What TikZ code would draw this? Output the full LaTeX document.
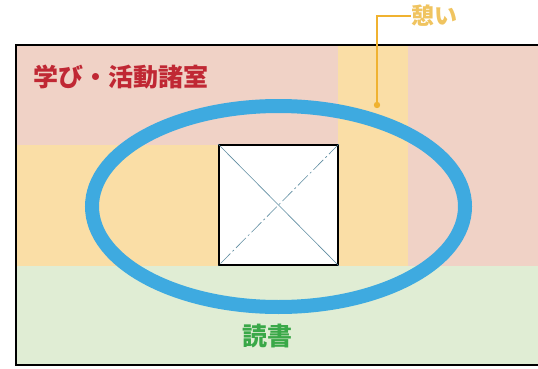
\documentclass[tikz,border=0pt]{standalone}
\usepackage{fontspec}
\newfontfamily\cjk{Noto Sans CJK JP}
\definecolor{pinkzone}{RGB}{240,210,198}
\definecolor{yellowzone}{RGB}{250,222,166}
\definecolor{greenzone}{RGB}{224,237,212}
\definecolor{ringblue}{RGB}{62,170,224}
\definecolor{labelred}{RGB}{192,40,52}
\definecolor{labelgreen}{RGB}{58,168,72}
\definecolor{labelyellow}{RGB}{240,196,96}
\definecolor{leaderorange}{RGB}{240,178,48}
\definecolor{diagline}{RGB}{95,140,160}
\tikzset{
  zonelabel/.style={inner sep=0pt, font=\cjk\bfseries\fontsize{25}{25}\selectfont},
  leader/.style={draw=leaderorange, line width=1.6pt},
}
\begin{document}
\begin{tikzpicture}[x=1pt,y=-1pt]
\useasboundingbox (0,0) rectangle (538,369);
% zones
\fill[pinkzone] (16,45) rectangle (545,266);
\fill[yellowzone] (16,145) rectangle (219,266);
\fill[yellowzone] (338,45) rectangle (408,266);
\fill[greenzone] (16,266) rectangle (545,365);
% central void
\node[draw=black, line width=1.6pt, fill=white, minimum width=119pt, minimum height=120pt, inner sep=0pt] (void) at (278.5,205) {};
\draw[diagline, line width=0.6pt] (void.north west) -- (void.south east);
\draw[diagline, line width=0.6pt, dash pattern=on 14pt off 3pt on 2pt off 3pt] (void.north east) -- (void.south west);
% outer border (open to the right)
\draw[black, line width=1.6pt] (545,45) -- (16,45) -- (16,365) -- (545,365);
% ring
\draw[ringblue, line width=14pt] (278.5,206.5) ellipse [x radius=186.5, y radius=100.5];
% labels
\node[zonelabel, text=labelred, anchor=west] (manabi) at (33,77) {学び・活動諸室};
\node[zonelabel, text=labelgreen] (dokusho) at (267,336) {読書};
\node[zonelabel, text=labelyellow, anchor=west, font=\cjk\bfseries\fontsize{23}{23}\selectfont] (ikoi) at (411,16) {憩い};
% leader
\coordinate (ikoidot) at (377,105);
\fill[leaderorange] (ikoidot) circle (3.2pt);
\draw[leader] (ikoidot) |- (ikoi.west);
\end{tikzpicture}
\end{document}
